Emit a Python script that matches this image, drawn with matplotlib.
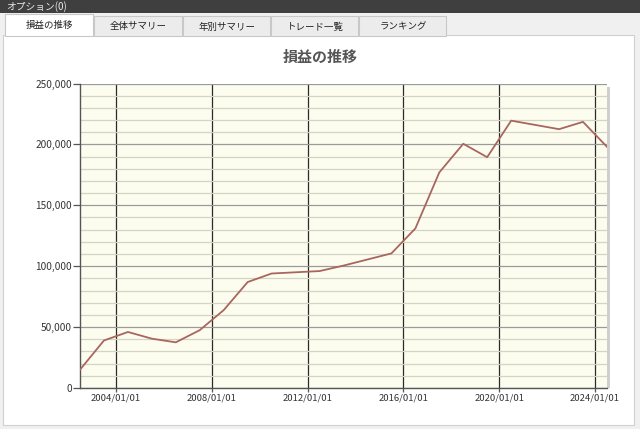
import datetime as dt
import matplotlib
matplotlib.use("Agg")
import matplotlib.pyplot as plt
import matplotlib.dates as mdates
from matplotlib.patches import Rectangle
from matplotlib.ticker import FuncFormatter, MultipleLocator

plt.rcParams["font.family"] = ["Noto Sans CJK JP", "DejaVu Sans"]

# data: profit (yen) at mid-year
years = list(range(2002, 2025))
profit = [15000, 39000, 46000, 40500, 37500, 47500, 64000, 87000, 94000,
          95000, 96000, 100500, 105500, 110500, 131000, 177000, 200500,
          189500, 219500, 216000, 212500, 218500, 198000]
tabs = ["損益の推移", "全体サマリー", "年別サマリー", "トレード一覧", "ランキング"]
title = "損益の推移"
menu_text = "オプション(0)"

W, H = 640, 429
fig = plt.figure(figsize=(W / 100, H / 100), dpi=100)
fig.patch.set_facecolor("#f0f0f0")


# pixel box -> figure rectangle
def px_rect(x0, y0, x1, y1, **kw):
    r = Rectangle((x0 / W, 1 - y1 / H), (x1 - x0) / W, (y1 - y0) / H,
                  transform=fig.transFigure, **kw)
    fig.patches.append(r)
    return r


# top dark bar
px_rect(0, 0, W, 13, facecolor="#3f3f3f", edgecolor="none")
fig.text(6 / W, 1 - 7 / H, menu_text, color="#e8e8e8", fontsize=7,
         va="center", ha="left")

# panel
px_rect(3, 35, 634, 425, facecolor="white", edgecolor="#d0d0d0", lw=0.8)

# tabs
tab_x = [5, 94, 183, 271, 359, 447]
for i, name in enumerate(tabs):
    active = i == 0
    y0 = 14 if active else 16
    px_rect(tab_x[i], y0, tab_x[i + 1] - 1, 36,
            facecolor="white" if active else "#ececec",
            edgecolor="#c8c8c8", lw=0.8, zorder=2 if active else 1)
    fig.text((tab_x[i] + tab_x[i + 1]) / 2 / W, 1 - (y0 + 11) / H, name,
             fontsize=6.8, ha="center", va="center", color="#222222", zorder=3)

fig.text(0.5, 1 - 57 / H, title, fontsize=10.8, fontweight="bold",
         color="#555555", ha="center", va="center")

# plot area
left, right, top, bottom = 80, 607, 83.5, 388
ax = fig.add_axes([left / W, 1 - bottom / H, (right - left) / W, (bottom - top) / H])
ax.set_zorder(5)
px_rect(right, top + 3, right + 3, bottom, facecolor="#c4c4c4",
        edgecolor="none", alpha=0.8, zorder=3)
ax.set_facecolor("#fdfdef")

dates = [dt.date(y, 7, 1) for y in years]
ax.plot(dates, profit, color="#a8665f", lw=1.3, zorder=3)

ax.set_xlim(dt.date(2002, 7, 1), dt.date(2024, 7, 1))
ax.set_ylim(0, 250000)
ax.xaxis.set_major_locator(mdates.YearLocator(4, month=1, day=1))
ax.xaxis.set_major_formatter(mdates.DateFormatter("%Y/%m/%d"))
ax.yaxis.set_major_locator(MultipleLocator(50000))
ax.yaxis.set_minor_locator(MultipleLocator(10000))
ax.yaxis.set_major_formatter(FuncFormatter(lambda v, p: f"{int(v):,}"))

ax.grid(True, axis="y", which="minor", color="#d4d4c4", lw=0.9)
ax.grid(True, axis="y", which="major", color="#9a9a9a", lw=0.9)
ax.grid(True, axis="x", which="major", color="#2a2a2a", lw=0.9)
ax.set_axisbelow(True)

for s in ["top", "right"]:
    ax.spines[s].set_visible(False)
for s in ["left", "bottom"]:
    ax.spines[s].set_color("#555555")
    ax.spines[s].set_linewidth(1.0)

ax.tick_params(axis="y", which="major", length=5, width=0.9, color="#555555",
               labelsize=7.3, labelcolor="#333333", pad=1)
ax.tick_params(axis="y", which="minor", length=0)
ax.tick_params(axis="x", length=3, width=0.9, color="#555555",
               labelsize=6.8, labelcolor="#333333", pad=1)

fig.savefig("out.png", dpi=100, facecolor=fig.get_facecolor())
